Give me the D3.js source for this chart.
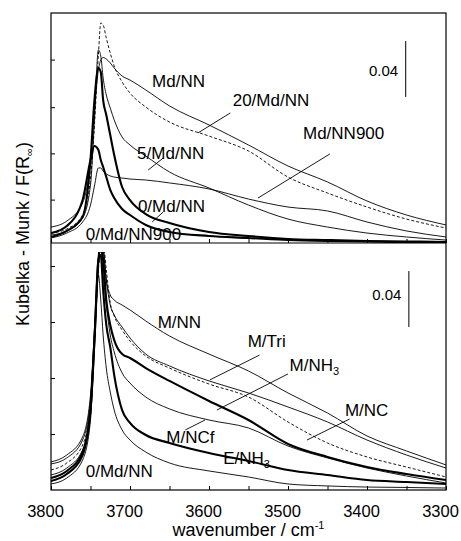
<!DOCTYPE html>
<html>
<head>
<meta charset="utf-8">
<script src="https://cdnjs.cloudflare.com/ajax/libs/d3/7.8.5/d3.min.js"></script>
<style>
body { margin: 0; background: #fff; }
svg { display: block; font-family: "Liberation Sans", Arial, Helvetica, sans-serif; }
.thin { fill: none; stroke: #000; stroke-width: 0.9; }
.thick { fill: none; stroke: #000; stroke-width: 2.1; }
.dash { fill: none; stroke: #000; stroke-width: 0.9; stroke-dasharray: 3,2; }
.lead { stroke: #000; stroke-width: 0.9; }
.lbl { font-size: 17px; fill: #000; }
.axis .domain { display: none; }
.axis line { stroke: #000; stroke-width: 1; }
.axis text { font-size: 16.5px; fill: #000; font-family: "Liberation Sans", Arial, sans-serif; }
</style>
</head>
<body>
<svg></svg>
<script>
var wn = [3800, 3780, 3760, 3750, 3745, 3740, 3737, 3734, 3730, 3725, 3720,
          3710, 3700, 3680, 3650, 3600, 3550, 3500, 3450, 3400, 3350, 3300];

// upper panel, F(R)
var mdNN     = [0.0114,0.0157,0.0286,0.0593,0.0950,0.1236,0.1307,0.1325,0.1314,0.1286,0.1250,0.1193,0.1164,0.1093,0.0979,0.0843,0.0700,0.0550,0.0436,0.0300,0.0200,0.0129];
var mdNN20   = [0.0071,0.0100,0.0200,0.0464,0.0843,0.1343,0.1571,0.1557,0.1464,0.1357,0.1264,0.1150,0.1071,0.0971,0.0864,0.0764,0.0657,0.0471,0.0357,0.0257,0.0171,0.0107];
var mdNN5    = [0.0057,0.0086,0.0179,0.0414,0.0879,0.1379,0.1336,0.1179,0.1057,0.0964,0.0879,0.0757,0.0700,0.0621,0.0507,0.0393,0.0271,0.0171,0.0114,0.0071,0.0043,0.0021];
var mdNN900  = [0.0036,0.0071,0.0150,0.0271,0.0407,0.0536,0.0536,0.0514,0.0493,0.0479,0.0471,0.0464,0.0457,0.0450,0.0429,0.0386,0.0314,0.0257,0.0229,0.0150,0.0086,0.0043];
var mdNN0    = [0.0043,0.0086,0.0186,0.0593,0.1021,0.1250,0.1221,0.1021,0.0914,0.0771,0.0629,0.0400,0.0307,0.0207,0.0143,0.0079,0.0050,0.0029,0.0021,0.0014,0.0011,0.0007];
var mdNN0900 = [0.0071,0.0121,0.0307,0.0593,0.0693,0.0664,0.0593,0.0543,0.0471,0.0379,0.0321,0.0243,0.0200,0.0129,0.0079,0.0050,0.0036,0.0021,0.0014,0.0011,0.0007,0.0007];

// lower panel, F(R)
var mNN    = [0.0200,0.0250,0.0379,0.0679,0.1143,0.1607,0.1786,0.1750,0.1500,0.1393,0.1357,0.1321,0.1286,0.1207,0.1100,0.0971,0.0850,0.0693,0.0550,0.0386,0.0279,0.0179];
var mTri   = [0.0186,0.0229,0.0357,0.0643,0.1107,0.1643,0.1786,0.1714,0.1500,0.1321,0.1250,0.1164,0.1086,0.0971,0.0886,0.0779,0.0693,0.0593,0.0486,0.0357,0.0250,0.0157];
var mNC    = [0.0143,0.0193,0.0321,0.0607,0.1071,0.1571,0.1750,0.1771,0.1571,0.1336,0.1243,0.1143,0.1064,0.0957,0.0871,0.0757,0.0664,0.0486,0.0336,0.0236,0.0164,0.0093];
var mNH3   = [0.0086,0.0136,0.0271,0.0571,0.1071,0.1643,0.1750,0.1643,0.1357,0.1179,0.1071,0.0971,0.0943,0.0871,0.0779,0.0636,0.0500,0.0329,0.0236,0.0164,0.0114,0.0071];
var mNCf   = [0.0107,0.0157,0.0286,0.0571,0.1036,0.1607,0.1714,0.1536,0.1321,0.1107,0.0986,0.0836,0.0764,0.0664,0.0579,0.0500,0.0443,0.0314,0.0229,0.0157,0.0100,0.0050];
var eNH3   = [0.0064,0.0114,0.0250,0.0571,0.1071,0.1643,0.1679,0.1429,0.1179,0.1021,0.0821,0.0571,0.0479,0.0393,0.0336,0.0264,0.0207,0.0143,0.0107,0.0071,0.0057,0.0043];
var mdNN0b = [0.0043,0.0086,0.0214,0.0500,0.1071,0.1536,0.1357,0.1107,0.0871,0.0700,0.0571,0.0429,0.0357,0.0271,0.0193,0.0136,0.0093,0.0043,0.0029,0.0021,0.0018,0.0014];

var xTicks = [3800, 3750, 3700, 3650, 3600, 3550, 3500, 3450, 3400, 3350, 3300];
var xTickLabels = [3800, 3700, 3600, 3500, 3400, 3300];
var yTicksTop = [0.031, 0.064, 0.097, 0.131];
var yTicksBot = [0.04, 0.08, 0.12, 0.16];

var topSeries = [
    { values: mdNN, cls: "thin" },
    { values: mdNN20, cls: "dash" },
    { values: mdNN5, cls: "thin" },
    { values: mdNN900, cls: "thin" },
    { values: mdNN0, cls: "thick" },
    { values: mdNN0900, cls: "thick" }
];
var botSeries = [
    { values: mNN, cls: "thin" },
    { values: mTri, cls: "thin" },
    { values: mNC, cls: "dash" },
    { values: mNH3, cls: "thick" },
    { values: mNCf, cls: "thin" },
    { values: eNH3, cls: "thick" },
    { values: mdNN0b, cls: "thin" }
];

// labels: text, subscript, wavenumber / F(R) of the text start
var topLabels = [
    ["Md/NN", "", 3672, 0.1114],
    ["20/Md/NN", "", 3570, 0.0979],
    ["5/Md/NN", "", 3691, 0.0600],
    ["Md/NN900", "", 3481, 0.0743],
    ["0/Md/NN", "", 3690, 0.0221],
    ["0/Md/NN900", "", 3756, 0.0021]
];
var topLeaders = [
    [3573, 0.0929, 3614, 0.0786],
    [3658, 0.0607, 3677, 0.0521],
    [3447, 0.0636, 3538, 0.0321],
    [3658, 0.0221, 3672, 0.0150]
];
var botLabels = [
    ["M/NN", "", 3665, 0.1157],
    ["M/Tri", "", 3551, 0.1021],
    ["M/NH", "3", 3498, 0.0850],
    ["M/NC", "", 3428, 0.0529],
    ["M/NCf", "", 3654, 0.0336],
    ["E/NH", "3", 3582, 0.0186],
    ["0/Md/NN", "", 3756, 0.0093]
];
var botLeaders = [
    [3536, 0.0964, 3599, 0.0786],
    [3500, 0.0829, 3590, 0.0571],
    [3422, 0.0507, 3476, 0.0357],
    [3630, 0.0429, 3605, 0.0500]
];

var W = 461, H = 541;
var pLeft = 51, pRight = 446, pTop = 13, pMid = 243, pBottom = 490;

var svg = d3.select("svg")
    .attr("width", W)
    .attr("height", H);

var x = d3.scaleLinear().domain([3800, 3300]).range([pLeft, pRight]);
var yTop = d3.scaleLinear().domain([0, (pMid - pTop) / 1400]).range([pMid, pTop]);
var yBot = d3.scaleLinear().domain([0, (pBottom - pMid) / 1400]).range([pBottom, pMid]);

var defs = svg.append("defs");
defs.append("clipPath").attr("id", "clipTop")
    .append("rect").attr("x", pLeft).attr("y", pTop).attr("width", pRight - pLeft).attr("height", pMid - pTop);
defs.append("clipPath").attr("id", "clipBot")
    .append("rect").attr("x", pLeft).attr("y", pMid + 9).attr("width", pRight - pLeft).attr("height", pBottom - pMid - 9);

function drawPanel(series, y, clip) {
    var line = d3.line()
        .x(function(d, i) { return x(wn[i]); })
        .y(function(d) { return y(d); })
        .curve(d3.curveMonotoneX);

    var g = svg.append("g").attr("clip-path", "url(#" + clip + ")");
    series.forEach(function(s) {
        g.append("path")
            .datum(s.values)
            .attr("class", s.cls)
            .attr("d", line);
    });
}

drawPanel(topSeries, yTop, "clipTop");
drawPanel(botSeries, yBot, "clipBot");

function drawLabels(labels, leaders, y) {
    labels.forEach(function(l) {
        var t = svg.append("text")
            .attr("class", "lbl")
            .attr("x", x(l[2]))
            .attr("y", y(l[3]))
            .text(l[0]);
        if (l[1]) {
            t.append("tspan").attr("dy", 4).style("font-size", "11px").text(l[1]);
        }
    });
    leaders.forEach(function(p) {
        svg.append("line")
            .attr("class", "lead")
            .attr("x1", x(p[0])).attr("y1", y(p[1]))
            .attr("x2", x(p[2])).attr("y2", y(p[3]));
    });
}

drawLabels(topLabels, topLeaders, yTop);
drawLabels(botLabels, botLeaders, yBot);

// 0.04 scale bars
function scaleBar(wnBar, v0, y, vText) {
    svg.append("line")
        .attr("x1", x(wnBar)).attr("x2", x(wnBar))
        .attr("y1", y(v0)).attr("y2", y(v0 + 0.04))
        .style("stroke", "#000").style("stroke-width", 1);
    svg.append("text")
        .attr("x", x(wnBar) - 7.5)
        .attr("y", y(vText))
        .attr("text-anchor", "end")
        .style("font-size", "15px")
        .text("0.04");
}
scaleBar(3351, 0.1043, yTop, 0.1196);
scaleBar(3347, 0.1164, yBot, 0.1357);

// axes
svg.append("g")
    .attr("class", "axis")
    .attr("transform", "translate(0," + pMid + ")")
    .call(d3.axisBottom(x).tickValues(xTicks).tickSizeInner(-4).tickSizeOuter(0).tickFormat(""));

svg.append("g")
    .attr("class", "axis")
    .attr("transform", "translate(0," + pBottom + ")")
    .call(d3.axisBottom(x).tickValues(xTicks).tickSizeInner(-4).tickSizeOuter(0).tickPadding(15)
        .tickFormat(function(d) { return xTickLabels.indexOf(d) >= 0 ? d : ""; }))
    .selectAll("text")
    .attr("dx", -6);

svg.append("g")
    .attr("class", "axis")
    .attr("transform", "translate(" + pLeft + ",0)")
    .call(d3.axisLeft(yTop).tickValues(yTicksTop).tickSizeInner(-4).tickSizeOuter(0).tickFormat(""));

svg.append("g")
    .attr("class", "axis")
    .attr("transform", "translate(" + pLeft + ",0)")
    .call(d3.axisLeft(yBot).tickValues(yTicksBot).tickSizeInner(-4).tickSizeOuter(0).tickFormat(""));

// frame
svg.append("rect")
    .attr("x", pLeft).attr("y", pTop)
    .attr("width", pRight - pLeft).attr("height", pBottom - pTop)
    .style("fill", "none").style("stroke", "#000").style("stroke-width", 1.2);
svg.append("line")
    .attr("x1", pLeft).attr("x2", pRight).attr("y1", pMid).attr("y2", pMid)
    .style("stroke", "#000").style("stroke-width", 1.2);

// axis titles
var xt = svg.append("text")
    .attr("x", (pLeft + pRight) / 2)
    .attr("y", 536)
    .attr("text-anchor", "middle")
    .style("font-size", "18px")
    .text("wavenumber / cm");
xt.append("tspan").attr("dy", -7).style("font-size", "11px").text("-1");

var yt = svg.append("text")
    .attr("transform", "translate(29,234) rotate(-90)")
    .attr("text-anchor", "middle")
    .style("font-size", "18px")
    .text("Kubelka - Munk / F(R");
yt.append("tspan").attr("dy", 4).style("font-size", "11px").text("\u221e");
yt.append("tspan").attr("dy", -4).text(")");
</script>
</body>
</html>
